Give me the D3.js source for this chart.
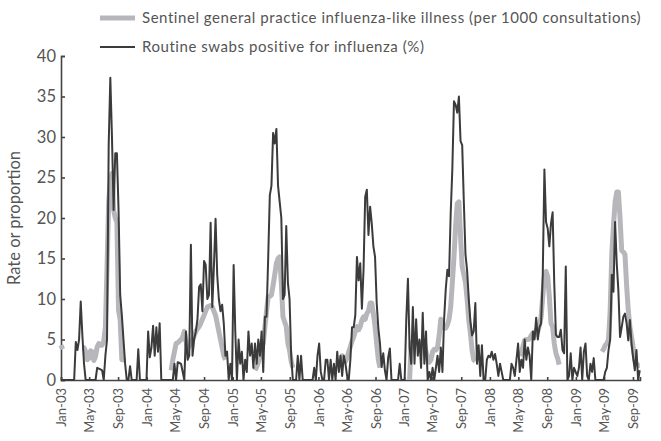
<!DOCTYPE html>
<html>
<head>
<meta charset="utf-8">
<script src="https://cdn.jsdelivr.net/npm/d3@7"></script>
<style>
  body { margin: 0; background: #fff; }
  text { font-family: Lato, "Open Sans", sans-serif; fill: #555; }
</style>
</head>
<body>
<div id="chart"></div>
<script>
var width = 661,
    height = 441

// weekly series, first week starts 1 Jan 2003
var firstWeek = new Date(2003, 0, 1)

// routine swabs positive for influenza (%)
var swabs = [
  // 2003
  0,0,0,0,0,0,0,0,0, 4.7,3.7,5,9.7,5.5,2,0, 0,0,0,0,0,0,
  1.5,1.4,1.3,1.2,0,3,5, 29,37.3,30,21,28,28,21,10.5,8,5,2,0,
  0,1.7,0,0,0,0,3.8,0,0,0,0,
  // 2004
  0,6,2.8,4,6.7,3,6.5,3.5,7,0, 0,0,0,0,0,0,0, 2,0,2.2,2.1,2,1,0,
  6,2.5,3,16.7,3,5,6,7.5,11.5,11.8, 8.5,14.7,14.2,10,10.5,19.4,9,14,19.9,13,
  10,8.5,9.3,7,3,3.5,0,2,
  // 2005
  0,14.2,6,0,5,2,3.5,0,2.5,1, 6,3,4.5,1.5,4.5,2,5,3,6,1,
  7.8,7.8,15,22.8,24,30.5,29.2,31,24,22, 20,10,10.5,19,12,10,3,0,0,0,
  3,0,3,0,0,0,0,0,0,0, 1.5,0,
  // 2006
  3,4.5,1,0,0,2.5,2.5,0,2.5,0, 2,0,3.5,1,3,0.5,3,2,0.5,0,
  2.5,6.5,6.5,8,15.2,12.3,14.4,8.8,13.6,22.6, 23.5,17.9,21.4,19.3,16.5,15.2,9.5,6.4,4.5,1.6,
  3.3,1.2,0,2.8,3.9,0,0,0,0,0, 2,0,
  // 2007
  0,0,7.5,12.5,4,2,9,2,7.5,3, 5,1.5,8.3,2,6,0,1,0,1.5,0,
  1.5,3,1,4,1,7.5,11.2,13.6,12.8,20.5, 26,34.4,34,33,35,29.5,29,22,15.5,13.5,
  10,7.2,5.5,6,9.5,2,4.3,0.5,4.3,0, 0,2.5,
  // 2008
  3,2.8,3.5,2.5,3.2,2,0.5,2,1,0, 0,0,0,0,2,1.5,0.5,2.5,4.5,1,
  2.5,1.5,5,2.5,4,3,0,6,5,7.7, 5,6.5,7,13,26,19.5,18.7,16.5,19.3,20.7,
  11.9,5.6,5.3,5.3,6.2,3.7,3.3,14,0,0.5, 3.3,0,1.5,
  // 2009
  1,0.5,1.5,4,0,3.5,4.5,0.5,0,2, 1,2.7,0,0,0,0,0,0,1,1.5,
  3.7,5,13,10.9,19.5,14.4,11,5.3,6.5,7.8, 8.2,7,4.9,7.4,4.5,2.7,1.2,3.7,0,1.2
]

// sentinel GP influenza-like illness (per 1000 consultations), null = not reported
var ili = [
  // 2003
  4.3,3.8, null,null,null,null,null,null,null,null,null,null,null,
  4,4,3.5,2.5,2.7,3.6,3.5,2.4,2.9,4.1,4.5,4.3,4.3,4.8,6.5,14,22,24.5,25.5,21,20,19.5,8.6,7.4,2.5,2.5,2.4,
  null,null,null,null,null,null,null,null,null,null,null,null,
  // 2004
  null,null,null,null,null,null,null,null,null,null,null,null,null,null,null,
  1.2,2.5,3.5,4.5,4.6,4.8,5,5.3,6,4.8,3.8,4.2,4.5,5,5.5,6,6.3,6.6,7,7.5,8,8.5,9,9.1,9.2,9,8.5,8,7,6,5,4,3,2.5,
  null,null,null,
  // 2005
  null,null,null,null,null,null,null,null,null,null,null,null,null,null,
  1.2,1.6,2.2,3,3.8,4.5,6.5,8.5,10.3,10.3,10.5,11.7,13,14.4,15,15.2,12,7.8,7.2,6.6,4.5,3.7,2.3,1.5,
  null,null,null,null,null,null,null,null,null,null,null,null,null,null,
  // 2006
  null,null,null,null,null,null,null,null,null,null,null,null,null,null,
  2,3,2.5,2.3,2.7,3.5,4.1,4.8,5.3,6,6.6,6.2,6.6,7.4,7.8,7.5,8.2,8.5,9.5,9.5,8.2,6.6,4.5,2.5,1.5,
  null,null,null,null,null,null,null,null,null,null,null,null,null,
  // 2007
  null,null,null,null,
  0,4.6,4.6,4.8,4.5,4.5,4.4,4.6,4.5,4.5,3.5,2.5,2.2,2.5,3.5,3.8,3.7,4,5.5,7.5,7,6.4,6.4,6.8,7.5,9,
  12,15.2,19,21.8,22,17.7,14,13,12,10,7.4,5.8,3.7,2.5,2.3,
  null,null,null,null,null,null,null,
  // 2008
  null,null,null,null,null,null,null,null,null,null,null,null,null,null,null,null,null,null,null,
  3,3.3,4.2,4.9,5,5,5.1,5.5,5.8,5.5,6.2,6,6.8,7.8,10.3,12.8,13.4,12.8,10.3,7,6.6,4.5,3.3,2.7,1.9,
  null,null,null,null,null,null,null,null,null,
  // 2009
  null,null,null,null,null,null,null,null,null,null,null,null,null,null,null,null,
  3.5,3.8,4.3,4.5,5,8.6,15.6,19,22,23.2,23.2,20,16,15.8,15.5,11.7,8.6,6.6,5.3,4,2.5,2,1.8,1.8
]

var tickLabels = ["Jan-03","May-03","Sep-03","Jan-04","May-04","Sep-04","Jan-05","May-05","Sep-05",
  "Jan-06","May-06","Sep-06","Jan-07","May-07","Sep-07","Jan-08","May-08","Sep-08","Jan-09","May-09","Sep-09"]
var yTicks = [0, 5, 10, 15, 20, 25, 30, 35, 40]

var seriesNames = ["Sentinel general practice influenza-like illness (per 1000 consultations)",
  "Routine swabs positive for influenza (%)"]

var grey = "#b7b7bb",
    dark = "#3b3b3b"

var svg = d3.select("#chart")
  .append("svg")
    .attr("width", width)
    .attr("height", height)

var parseTick = d3.timeParse("%b-%y")
function weekDate(i) { return d3.timeDay.offset(firstWeek, 7 * i) }

var x = d3.scaleTime()
  .domain([firstWeek, new Date(2009, 9, 1)])
  .range([61, 640])

var y = d3.scaleLinear()
  .domain([0, 40])
  .range([380, 56])

// axes
var yAxis = svg.append("g")
  .attr("transform", "translate(61,0)")
  .call(d3.axisLeft(y).tickValues(yTicks).tickSize(-4).tickPadding(5))
yAxis.selectAll("text").style("font-size", "16.5px").attr("fill", "#555")

var xAxis = svg.append("g")
  .attr("transform", "translate(0,380)")
  .call(d3.axisBottom(x).tickValues(tickLabels.map(parseTick)).tickSize(-3)
    .tickFormat(d3.timeFormat("%b-%y")))
xAxis.selectAll("text")
  .style("font-size", "13px")
  .attr("fill", "#555")
  .attr("text-anchor", "end")
  .attr("transform", "rotate(-90)")
  .attr("x", -8)
  .attr("y", 0)
  .attr("dy", "0.35em")

svg.selectAll(".domain, .tick line")
  .attr("stroke", "#444")
  .attr("stroke-width", 1.6)

// y title
svg.append("text")
  .attr("transform", "translate(20,218) rotate(-90)")
  .attr("text-anchor", "middle")
  .style("font-size", "16.5px")
  .text("Rate or proportion")

// lines
var line = d3.line()
  .defined(function(d) { return d != null })
  .x(function(d, i) { return x(weekDate(i)) })
  .y(function(d) { return y(d) })

svg.append("path")
  .datum(ili)
  .attr("d", line)
  .attr("fill", "none")
  .attr("stroke", grey)
  .attr("stroke-width", 5)
  .attr("stroke-linejoin", "round")

svg.append("path")
  .datum(swabs)
  .attr("d", line)
  .attr("fill", "none")
  .attr("stroke", dark)
  .attr("stroke-width", 2)
  .attr("stroke-linejoin", "round")

// legend
var legend = svg.selectAll(".legend")
  .data(seriesNames)
  .enter()
  .append("g")
    .attr("transform", function(d, i) { return "translate(100," + (18 + i * 29) + ")" })

legend.append("line")
  .attr("x1", 0).attr("x2", 35)
  .attr("stroke", function(d, i) { return i == 0 ? grey : dark })
  .attr("stroke-width", function(d, i) { return i == 0 ? 5 : 2 })

legend.append("text")
  .attr("x", 42)
  .attr("dy", "0.35em")
  .style("font-size", "15px")
  .style("letter-spacing", "0.55px")
  .text(function(d) { return d })
</script>
</body>
</html>
